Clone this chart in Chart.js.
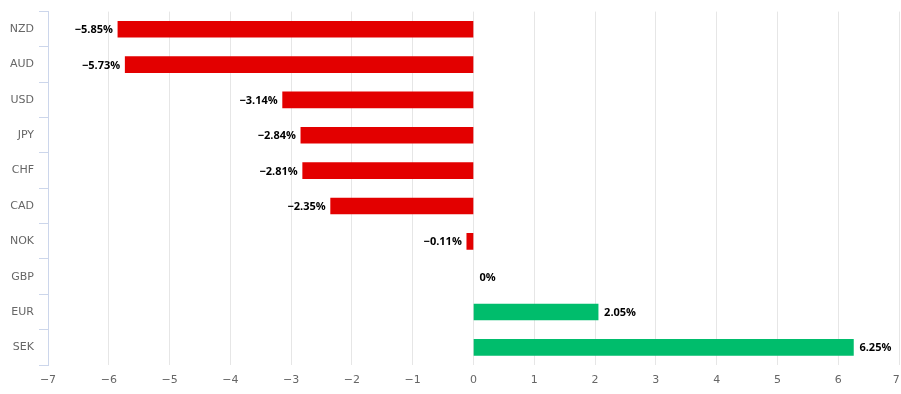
<!DOCTYPE html>
<html>
<head>
<meta charset="utf-8">
<script src="https://cdn.jsdelivr.net/npm/chart.js@4.4.0/dist/chart.umd.min.js"></script>
<style>
  html, body { margin: 0; padding: 0; background: #fff; }
  #wrap { width: 901px; height: 394px; position: relative; }
</style>
</head>
<body>
<div id="wrap"><canvas id="chart"></canvas></div>
<script>
const currencies = ['NZD', 'AUD', 'USD', 'JPY', 'CHF', 'CAD', 'NOK', 'GBP', 'EUR', 'SEK'];
const changes = [-5.85, -5.73, -3.14, -2.84, -2.81, -2.35, -0.11, 0, 2.05, 6.25];
const axisMin = -7;
const axisMax = 7;

const RED = '#e30000';
const GREEN = '#00bd6c';

function fmt(v) {
    return String(v).replace('-', '\u2212');
}

// labels at the end of each bar, like the original data labels
const valueLabels = {
    id: 'valueLabels',
    afterDatasetsDraw(chart) {
        const ctx = chart.ctx;
        const meta = chart.getDatasetMeta(0);
        const x0 = chart.scales.x.getPixelForValue(0);
        ctx.save();
        ctx.font = 'bold 11px "Open Sans"';
        ctx.fillStyle = '#000';
        ctx.textBaseline = 'middle';
        meta.data.forEach((bar, i) => {
            const v = changes[i];
            const text = fmt(v) + '%';
            if (v < 0) {
                ctx.textAlign = 'right';
                ctx.fillText(text, bar.x - 5, bar.y + 1);
            } else {
                ctx.textAlign = 'left';
                ctx.fillText(text, Math.max(bar.x, x0) + 6, bar.y + 1);
            }
        });
        ctx.restore();
    }
};

new Chart(document.getElementById('chart'), {
    type: 'bar',
    data: {
        labels: currencies,
        datasets: [{
            data: changes,
            backgroundColor: changes.map(v => v < 0 ? RED : (v > 0 ? GREEN : 'rgba(0,0,0,0)')),
            barThickness: 16,
            borderSkipped: false,
        }],
    },
    options: {
        indexAxis: 'y',
        responsive: true,
        maintainAspectRatio: false,
        animation: false,
        layout: { padding: { top: 11, right: 2, left: 0, bottom: 0 } },
        plugins: {
            legend: { display: false },
            tooltip: { enabled: false },
        },
        scales: {
            x: {
                min: axisMin,
                max: axisMax,
                ticks: {
                    stepSize: 1,
                    color: '#666666',
                    font: { family: 'DejaVu Sans', size: 11 },
                    padding: 9,
                    // last label is pushed a little inward so it is not cut at the edge
                    callback: v => v === axisMax ? fmt(v) + '\u2002' : fmt(v),
                },
                grid: { color: '#e6e6e6', drawTicks: false },
                border: { display: false },
                afterFit: s => {
                    s.height = 29;
                    s.paddingLeft = 0;
                    s.paddingRight = 0;
                },
            },
            y: {
                ticks: {
                    color: '#666666',
                    font: { family: 'DejaVu Sans', size: 11 },
                    padding: 5,
                },
                grid: {
                    drawOnChartArea: false,
                    drawTicks: true,
                    tickLength: 9,
                    color: '#ccd6eb',
                    offset: true,
                },
                border: { color: '#ccd6eb' },
                afterFit: s => { s.width = 48; },
            },
        },
    },
    plugins: [valueLabels],
});
</script>
</body>
</html>
